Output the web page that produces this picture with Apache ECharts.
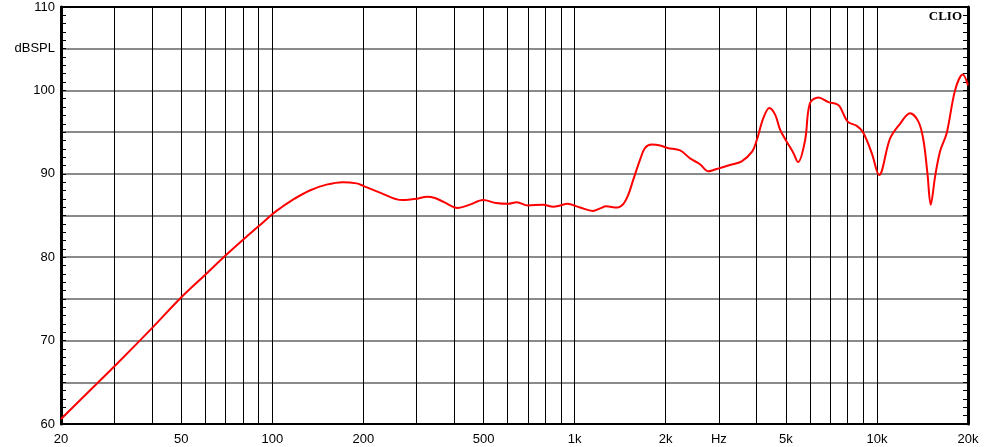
<!DOCTYPE html>
<html>
<head>
<meta charset="utf-8">
<script src="https://cdn.jsdelivr.net/npm/echarts@6/dist/echarts.min.js"></script>
<style>
html,body{margin:0;padding:0;background:#fff;}
#c{width:985px;height:447px;}
</style>
</head>
<body>
<div id="c"></div>
<script>
// Frequency response (Hz) and level (dB SPL)
var freqHz = [20, 30, 40, 50, 60, 70, 80, 90, 100, 106, 117, 133, 151, 171, 190, 200, 227, 269, 300, 325, 345, 370, 411, 450, 498, 550, 602, 644, 700, 786, 850, 895, 944, 1042, 1150, 1214, 1270, 1381, 1450, 1505, 1563, 1646, 1710, 1799, 1917, 2030, 2233, 2408, 2598, 2770, 2880, 3000, 3267, 3568, 3863, 4000, 4210, 4405, 4604, 4781, 5000, 5290, 5484, 5782, 6000, 6400, 6904, 7360, 7540, 8000, 8575, 9000, 9615, 10160, 11050, 11920, 12860, 13710, 14240, 14680, 15060, 15570, 16170, 17010, 18140, 19230, 20000];
var splDb = [60.6, 66.9, 71.5, 75.2, 77.9, 80.2, 82.1, 83.7, 85.15, 85.85, 86.9, 88.0, 88.7, 89.0, 88.85, 88.55, 87.75, 86.85, 87.0, 87.25, 87.1, 86.6, 85.9, 86.3, 86.85, 86.5, 86.4, 86.6, 86.2, 86.3, 86.05, 86.2, 86.4, 85.95, 85.55, 85.85, 86.1, 85.95, 86.4, 87.5, 89.3, 91.7, 93.1, 93.5, 93.4, 93.1, 92.8, 91.85, 91.15, 90.3, 90.45, 90.65, 91.05, 91.5, 92.65, 94.0, 96.7, 97.9, 97.1, 95.3, 94.0, 92.5, 91.4, 94.0, 98.45, 99.15, 98.6, 98.35, 98.05, 96.25, 95.75, 94.95, 92.45, 89.85, 94.25, 96.0, 97.25, 96.25, 94.05, 90.1, 86.3, 89.7, 92.7, 94.9, 100.05, 101.9, 100.6];

// Axis marks
var gridFreqs = [20, 30, 40, 50, 60, 70, 80, 90, 100, 200, 300, 400, 500, 600, 700, 800, 900, 1000, 2000, 3000, 4000, 5000, 6000, 7000, 8000, 9000, 10000, 20000];
var labelFreqs = [20, 50, 100, 200, 500, 1000, 2000, 3000, 5000, 10000, 20000];
var labelTexts = ['20', '50', '100', '200', '500', '1k', '2k', 'Hz', '5k', '10k', '20k'];
var yMin = 60, yMax = 110, yStep = 5;

var lg = function (f) { return Math.log10(f); };
var labelMap = {};
labelFreqs.forEach(function (f, i) { labelMap[Math.round(f)] = labelTexts[i]; });

var chart = echarts.init(document.getElementById('c'), null, {renderer: 'canvas'});
var font = 'Liberation Sans, Arial, sans-serif';
var xBase = {
  type: 'value', min: lg(20), max: lg(20000)
};
chart.setOption({
  animation: false,
  backgroundColor: '#fff',
  title: {
    text: 'CLIO', right: 18, top: 5,
    textStyle: {fontFamily: 'Liberation Serif, serif', fontWeight: 'bold', fontSize: 13, color: '#000'}
  },
  grid: {left: 61, right: 17, top: 7, bottom: 23, containLabel: false},
  xAxis: [
    Object.assign({}, xBase, {
      position: 'bottom',
      axisLine: {show: true, onZero: false, lineStyle: {color: '#000', width: 2}},
      axisTick: {show: false, customValues: gridFreqs.map(lg)},
      splitLine: {show: true, lineStyle: {color: '#000', width: 1}},
      axisLabel: {
        show: true, customValues: labelFreqs.map(lg), margin: 9,
        fontFamily: font, fontSize: 13, color: '#000',
        formatter: function (v) { var f = Math.round(Math.pow(10, v)); return labelMap[f] || ''; }
      }
    }),
    Object.assign({}, xBase, {
      position: 'top',
      axisLine: {show: true, onZero: false, lineStyle: {color: '#000', width: 2}},
      axisTick: {show: false}, splitLine: {show: false}, axisLabel: {show: false}
    })
  ],
  yAxis: [
    {
      type: 'value', min: yMin, max: yMax, interval: yStep, position: 'left',
      axisLine: {show: true, onZero: false, lineStyle: {color: '#000', width: 3}},
      axisTick: {show: true, inside: true, length: 5, lineStyle: {color: '#000', width: 1}},
      minorTick: {show: true, splitNumber: 5, length: 5, lineStyle: {color: '#000', width: 1}},
      splitLine: {show: true, lineStyle: {color: '#8a8a8a', width: 2}},
      axisLabel: {
        margin: 6, fontFamily: font, fontSize: 13, color: '#000',
        formatter: function (v) { return v % 10 === 0 ? String(v) : (v === 105 ? 'dBSPL' : ''); }
      }
    },
    {
      type: 'value', min: yMin, max: yMax, interval: yStep, position: 'right',
      axisLine: {show: true, onZero: false, lineStyle: {color: '#000', width: 3}},
      axisTick: {show: true, inside: true, length: 5, lineStyle: {color: '#000', width: 1}},
      minorTick: {show: true, splitNumber: 5, length: 5, lineStyle: {color: '#000', width: 1}},
      splitLine: {show: false}, axisLabel: {show: false}
    }
  ],
  series: [{
    type: 'line',
    xAxisIndex: 0, yAxisIndex: 0,
    data: freqHz.map(function (f, i) { return [lg(f), splDb[i]]; }),
    smooth: 0.35,
    symbol: 'none',
    lineStyle: {color: '#ff0000', width: 2},
    z: 5
  }]
});
</script>
</body>
</html>
